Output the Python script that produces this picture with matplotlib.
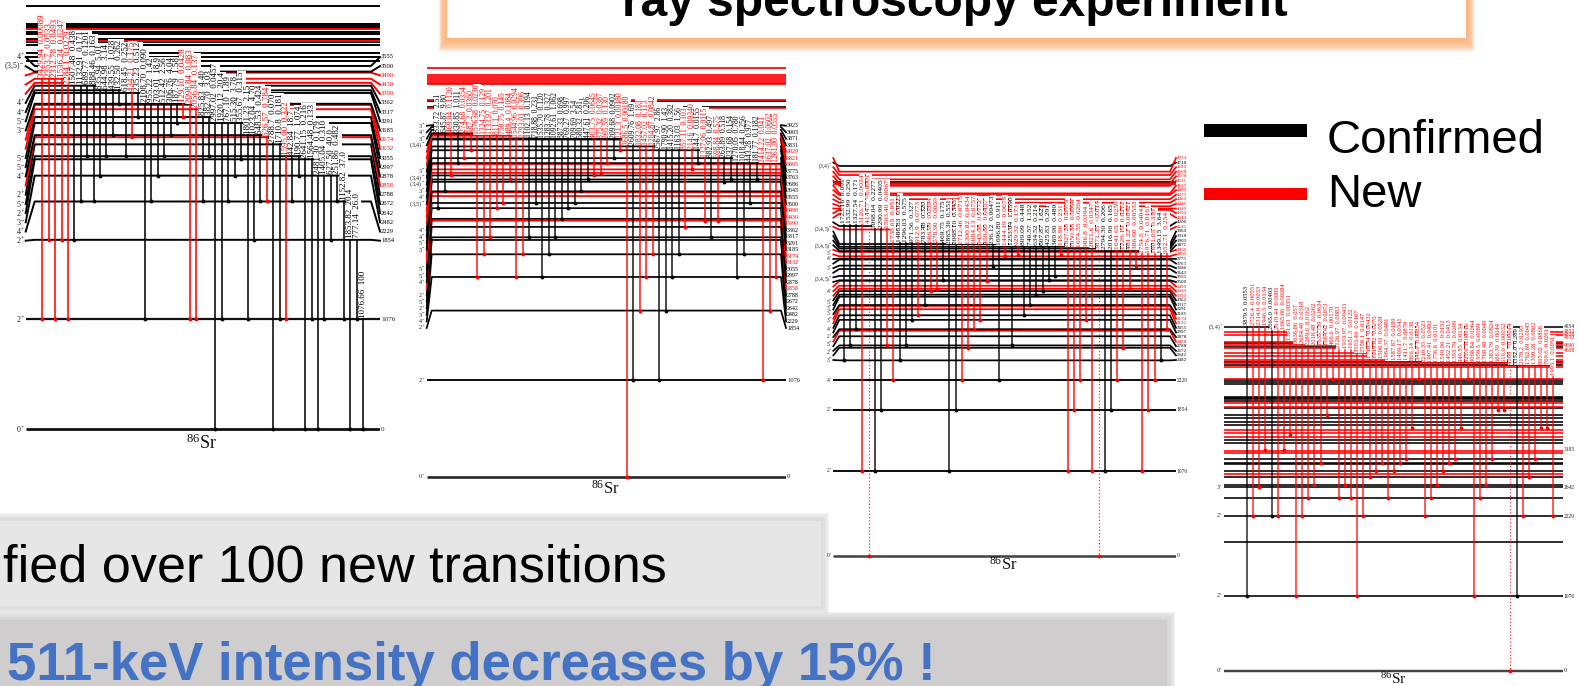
import matplotlib
matplotlib.use('Agg')
import matplotlib.pyplot as plt
from matplotlib.patches import Rectangle

plt.rcParams['font.family'] = 'Liberation Serif'
plt.rcParams['mathtext.default'] = 'regular'

W, H = 1578, 686

# spins of the known levels, keV
spins = {1854: '2+', 2229: '4+', 2482: '3-', 2642: '2+', 2672: '5-', 2788: '2+', 2878: '4+',
         2997: '5-', 3055: '5-', 3185: '3-', 3291: '5-', 3317: '4-', 3362: '4+', 3500: '(3,5)-',
         3555: '4+', 3643: '3-', 3686: '(3,4)-', 3763: '(3,4)-', 3775: '3-', 3831: '(3,4)-',
         3871: '3-', 3903: '4+', 3923: '3-'}

# ---- first scheme ----
p1_lab_e = [1854, 2229, 2482, 2642, 2672, 2788, 2858, 2878, 2997, 3055, 3132, 3174, 3185, 3291,
            3317, 3362, 3390, 3430, 3490, 3500, 3555]
p1_lab_new = [2858, 3132, 3174, 3390, 3430, 3490]
p1_black = [3605, 3647, 3680, 3761, 3790, 3816, 3872, 3892, 3931, 3947, 3964, 4137]
p1_red = [3803, 3915]
p1_gamma = ['3429.94', '2353.7', '2312.78', '1536.24', '2284.1', '1507.48', '1132.91', '689.77',
            '888.46', '835.94', '644.98', '439.55', '132.50', '618.45', '434.21', '235.23',
            '2108.70', '955.22', '703.01', '512.42', '306.76', '187.79', '129.10', '2098.84',
            '2056.84', '825.83', '382.70', '2997.02', '1920.12', '767.10', '515.30', '355.67',
            '1801.23', '1023.04', '648.53', '626.57', '2788.7', '1710.8', '1595.00', '442.84',
            '190.77', '2641.15', '1564.48', '2481.30', '1405.04', '627.50', '251.86', '1152.82',
            '1853.82', '777.14', '1076.66']
p1_inten = ['0.00089', '0.0533', '0.0493', '0.0247', '0.0279', '0.438', '0.171', '0.1201',
            '0.163', '5.01', '3.14', '1.028', '0.262', '0.252', '0.175', '0.512',
            '0.090', '1.42', '18.9', '2.56', '4.04', '1.58', '0.0428', '0.083',
            '0.137', '4.40', '3.03', '0.0457', '20.4', '1.89', '3.78', '0.315',
            '2.15', '4.70', '0.424', '0.784', '0.070', '0.181', '0.322', '18.7',
            '1.074', '0.216', '0.133', '0.179', '0.310', '40.0', '0.482', '37.0',
            '20.4', '26.0', '100']
p1_from = [3430, 3430, 3430, 3430, 3362, 3362, 3362, 3362, 3362, 3317, 3317, 3317, 3317, 3291, 3291,
           3291, 3185, 3185, 3185, 3185, 3185, 3185, 3185, 3174, 3132, 3055, 3055, 2997, 2997, 2997,
           2997, 2997, 2878, 2878, 2878, 2858, 2788, 2788, 2672, 2672, 2672, 2642, 2642, 2482, 2482,
           2482, 2482, 2229, 1854, 1854, 1076]
p1_to = [1076, 1854, 1076, 1854, 1076, 1854, 2229, 2672, 2229, 2482, 2672, 2878, 3185, 2672, 2858,
         3055, 1076, 2229, 2482, 2672, 2878, 2997, 3055, 1076, 1076, 2229, 2672, 0, 1076, 2229,
         2482, 2642, 1076, 1854, 2229, 2229, 0, 1076, 1076, 2229, 2482, 0, 1076, 0, 1076,
         1854, 2229, 1076, 0, 1076, 0]
p1_new = [0, 1, 2, 3, 4, 14, 22, 23, 24, 35, 38]

# ---- second scheme ----
p2_lab_e = p1_lab_e + [3643, 3686, 3763, 3775, 3805, 3821, 3829, 3831, 3871, 3903, 3923]
p2_lab_new = p1_lab_new + [3805, 3821, 3829]
p2_black = [4130, 4190]
p2_red = [4111, 4204, 4379, 4398, 4416, 4435, 4457, 4483, 4558]
p2_gamma = ['833.72', '645.87', '469.04', '330.85', '274.68', '187.2', '1576.68', '1324.75',
            '1133.97', '811.1', '750.75', '489.4', '1544.96', '1293.01', '1102.13', '718.88',
            '1535.70', '1283.78', '1092.61', '887.33', '769.27', '709.69', '580.32', '447.61',
            '403.75', '375.32', '265.59', '209.68', '121.3', '3686.5', '2609.76', '1832.08',
            '1457.02', '1204.87', '2567.97', '1790.90', '1415.20', '1163.03', '857.11', '214.6',
            '144.7', '1327.06', '882.93', '698.84', '263.89', '237.68', '1270.05', '1018.44',
            '443.28', '181.77', '2414.22', '1637.02', '1261.00']
p2_inten = ['2.51', '9.80', '0.1120', '1.011', '0.0354', '0.0360', '0.0230', '0.129',
            '0.201', '0.070', '0.145', '0.1084', '0.0294', '0.396', '0.194', '0.231',
            '0.120', '0.327', '1.062', '0.698', '0.997', '3.54', '5.81', '0.206',
            '0.0645', '0.0387', '0.130', '0.0902', '0.00180', '0.00180', '1.69', '0.183',
            '0.113', '0.0842', '2.86', '1.43', '0.382', '1.56', '0.103', '0.00340',
            '0.0155', '0.0115', '0.497', '0.575', '0.518', '0.154', '0.780', '0.256',
            '0.977', '0.1182', '0.041', '0.0602', '0.0555']
p2_from = [3831] * 6 + [3805] * 6 + [3775] * 4 + [3763] * 13 + [3686] * 5 + [3643] * 7 + [3555] * 5 \
    + [3500] * 4 + [3490] * 3
p2_to = [2997, 3185, 3362, 3500, 3555, 3643, 2229, 2482, 2672, 2997, 3055, 3317, 2229, 2482, 2672,
         3055, 2229, 2482, 2672, 2878, 2997, 3055, 3185, 3317, 3362, 3390, 3500, 3555, 3643, 0,
         1076, 1854, 2229, 2482, 1076, 1854, 2229, 2482, 2788, 3430, 3500, 2858, 2672, 2858, 3291,
         3317, 2229, 2482, 3055, 3317, 1076, 1854, 2229]
p2_new = [2, 4, 5, 6, 7, 8, 9, 10, 11, 12, 13, 24, 25, 26, 28, 29, 31, 32, 33, 38, 39, 41, 43, 50, 51, 52]

# ---- third scheme ----
# drawn energy and printed label are kept apart, the printed ones are squeezed together
p3_lab_e = [2482, 2642, 2672, 2788, 2858, 2878, 2997, 3055, 3132, 3174, 3185, 3291, 3317, 3362, 3390,
            3430, 3490, 3500, 3555, 3643, 3686, 3763, 3775, 3805, 3859, 3871, 3903, 3926, 3960, 4145,
            4189, 4344, 4394, 4410, 4440, 4485, 4530, 4583, 4604, 4700, 4730, 4782, 4837, 4952, 4880]
p3_lab_txt = ['2482', '2642', '2672', '2788', '2858', '2878', '2997', '3055', '3132', '3174', '3185',
              '3291', '3317', '3362', '3390', '3430', '3490', '3500', '3555', '3643', '3686', '3763',
              '3775', '3805', '3859', '3871', '3903', '3918', '3960', '4145', '4206', '4344', '4394',
              '4410', '4440', '4460', '4473', '4490', '4517', '4531', '4578', '4608', '4690', '4718',
              '4734']
p3_lab_new = [2858, 3132, 3174, 3390, 3430, 3490, 3805, 3859, 4145, 4344, 4394, 4410, 4440, 4485, 4530,
              4583, 4604, 4700, 4730, 4782, 4837, 4880]
p3_black = [4745]
p3_red = [4720]
p3_spin_e = [4952, 4145, 3933, 3841, 3778, 3651, 3511, 3355, 3228, 3143, 3080, 2995, 2868, 2783, 2690,
             2593, 2487, 2229, 1854, 1076, 0]
p3_spin_txt = ['(3,4)+', '(3,4,5)-', '(3,4,5)-', '3-', '4+', '3-', '(3,4,5)-', '4+', '5-', '3-', '3-',
               '3-', '4+', '2+', '5-', '2-', '3-', '4+', '2+', '2+', '0+']
p3_gamma = ['1723.16', '1532.99', '1327.54', '3126.71', '4144.7', '3068.04', '2290.99', '1503.40',
            '1738.65', '1486.83', '1296.03', '971.56', '912.9', '783.48', '606.99', '578.90',
            '469.75', '2865.36', '2088.10', '1712.46', '1300.82', '1084.13', '945.08', '450.80',
            '236.12', '1696.80', '1444.19', '1253.04', '929.32', '809.09', '740.57', '634.52',
            '607.87', '425.83', '369.90', '118.96', '2827.28', '2050.38', '1674.55', '986.8',
            '2821.6', '3871.35', '2794.30', '2016.90', '1641.65', '1229.10', '481.22', '386.90',
            '2754.5', '1976.71', '1601.05', '1349.15', '952.71']
p3_inten = ['0.091', '0.250', '0.171', '0.0034', '<0.0001', '0.2277', '0.0405', '0.0067',
            '0.051', '0.0223', '0.575', '0.327', '0.0773', '0.320', '0.0394', '0.0059',
            '0.175', '0.551', '0.343', '0.0715', '0.0434', '0.0757', '0.0772', '0.0457',
            '0.00473', '0.911', '0.0678', '1.8590', '0.173', '0.448', '1.152', '0.214',
            '1.62', '0.291', '0.480', '0.231', '0.0573', '0.0098', '0.0264', '0.0394',
            '0.0347', '<0.014', '0.206', '0.165', '0.0259', '0.0212', '0.00921', '0.00533',
            '0.0404', '0.0161', '0.339', '3.64', '0.254']
p3_from = [4206] * 5 + [4145] * 3 + [3968] * 9 + [3941] * 8 + [3926] * 11 + [3903] * 4 + [3897] \
    + [3871] * 7 + [3831] * 5
p3_to = [2482, 2672, 2878, 1076, 0, 1076, 1854, 2672, 2229, 2482, 2672, 2997, 3055, 3185, 3362, 3390,
         3500, 1076, 1854, 2229, 2642, 2878, 2997, 3490, 3686, 2229, 3805, 2672, 3821, 3055, 3185,
         3317, 3362, 3500, 3555, 3821, 1076, 1854, 2229, 2997, 1076, 0, 1076, 1854, 2229, 2642, 3390,
         3686, 1076, 1854, 2229, 2482, 2878]
p3_new = [3, 4, 7, 8, 12, 14, 15, 19, 20, 21, 22, 23, 26, 28, 35, 36, 37, 38, 39, 40, 41, 44, 45, 46,
          47, 48, 49, 50, 52]
p3_dotted = [4, 41]

# ---- fourth scheme ----
p4_black = [4954, 4717, 4669, 4453, 4405, 4189, 4165, 4131, 3948, 3929, 3910, 3891, 3780, 3686, 3636,
            3588, 3540, 3324, 3285, 3048, 2997, 2972, 2878, 2788, 2672, 2642, 2482, 2229, 1854, 1076]
p4_red = [4885, 4837, 4741, 4693, 4645, 4583, 4534, 4477, 4429, 4371, 4201, 3852, 3804, 3468, 3420,
          3372, 3169, 3130, 2829]
p4_lab_e = [4954, 4885, 4846, 4803, 4690, 4608, 3185, 2642, 2229, 1076]
p4_lab_txt = ['4954', '4853', '4838', '4810', '4690', '4608', '3185', '2642', '2229', '1076']
p4_lab_new = [4885, 4846, 4803, 4690, 4608]
p4_spin_e = [4954, 2642, 2229, 1076]
p4_spin_txt = ['(3,4)+', '3+', '2+', '2+']
p4_gamma = ['3879.5', '2726.4', '2314.9', '1946.3', '2665.0', '2619.44', '1665.06', '1361.63',
            '3636.86', '2684.48', '2289.6', '2018.48', '1635.739', '1084.42', '466.6', '2126.97',
            '1933.97', '1651.3', '3503.49', '2558.1', '1710.34', '1619.82', '1500.93', '1984.37',
            '1587.87', '1469.17', '1411.7', '866.14', '348.9', '2210.35', '1907.41', '1776.6',
            '1510.86', '1452.21', '1393.79', '949.55', '323.9', '3068.84', '1959.5', '1768.48',
            '1383.79', '666.39', '516.0', '4169', '3352.0', '2179.2', '1762.69', '1339.28',
            '805.02', '769.6', '1993.1']
p4_inten = ['0.0553', '0.00551', '0.0033', '0.0134', '0.00403', '0.0085', '0.00284', '0.00351',
            '0.057', '0.0318', '0.0162', '0.0262', '0.0634', '0.0073', '0.00170', '0.0083',
            '0.00431', '0.0122', '0.0167', '0.0147', '0.00432', '0.0270', '0.0528', '0.0481',
            '0.0189', '0.0341', '0.0879', '0.0138', '0.00834', '0.0523', '0.0492', '0.0101',
            '0.0152', '0.0413', '0.0209', '0.0134', '0.00016', '0.0064', '0.0089', '0.0049',
            '0.0824', '0.0044', '0.00032', '<0.00014', '0.289', '0.0295', '0.0045', '0.0802',
            '0.0866', '0.0261', '0.0051']
p4_from = [4954] * 4 + [4894] * 3 + [4741] + [4693] * 2 + [4669] * 5 + [4621] * 3 + [4563] * 2 \
    + [4476] * 3 + [4452] * 6 + [4428] * 14 + [4389] * 7 + [4237]
p4_to = [1076, 2229, 2642, 3185, 2229, 2229, 3185, 3390, 1076, 2229, 2482, 2672, 2997, 3686, 4206, 2482,
         2672, 2482, 1076, 2229, 2788, 2878, 2997, 2482, 2878, 2997, 3055, 3500, 4206, 2229, 2482, 2672,
         2878, 2997, 3055, 3500, 4206, 1076, 2482, 2672, 3055, 3763, 3763, 0, 1076, 2229, 2788, 3055,
         3500, 3500, 2229]
p4_new = [i for i in range(51) if i not in (0, 4, 44)]
p4_dotted = [43]

# layout, everything in reference pixels
panels = [
    dict(left=25.7, right=380, y0=429.3, k=0.1022, col0=42.3, step=6.413, size=6.5, lab=4.7, spin=5.8,
         kink=9, lab_lo=240.7, lab_hi=57, sr=201, sr_y=449, sr_size=13, lw=1.4, gs='#111111'),
    dict(left=426.7, right=786, y0=476.7, k=0.0896, col0=438, step=6.5, size=5.5, lab=4.3, spin=4.5,
         kink=5, lab_lo=328, lab_hi=125.7, sr=605, sr_y=494, sr_size=12, lw=1.25, gs='#222222'),
    dict(left=833.3, right=1176, y0=555.7, k=0.0787, col0=843.7, step=6.217, size=5.4, lab=3.6, spin=4.0,
         kink=6, lab_lo=360, lab_hi=158, sr=1003, sr_y=570, sr_size=12, lw=1.25, gs='#444444'),
    dict(left=1224, right=1562.7, y0=670.7, k=0.0694, col0=1247, step=6.127, size=4.7, lab=4.0, spin=4.2,
         kink=0, lab_lo=None, lab_hi=None, sr=1393, sr_y=684, sr_size=11, lw=1.15, gs='#444444'),
]


def spin_text(s):
    return '%s$^{%s}$' % (s[:-1], s[-1])


def make_axes(fig, p):
    ax = fig.add_axes([p['left'] / W, 0, (p['right'] - p['left']) / W, 1])
    ax.set_xlim((p['left'] - p['col0']) / p['step'], (p['right'] - p['col0']) / p['step'])
    ax.set_ylim((p['y0'] - H) / p['k'], p['y0'] / p['k'])
    ax.axis('off')
    return ax


def draw_levels(ax, p, energies, new, texts=None, with_spin=True):
    # labelled levels, the label column is spread out and tied back to the level by a kink
    x0, x1 = ax.get_xlim()
    dx = p['kink'] / p['step']
    n = len(energies)
    for i, e in enumerate(energies):
        col = 'red' if e in new else 'black'
        px = p['lab_lo'] + (p['lab_hi'] - p['lab_lo']) * i / (n - 1)
        ly = (p['y0'] - px) / p['k']
        ax.plot([x0, x0 + dx, x1 - dx, x1], [ly, e, e, ly], color=col, lw=p['lw'], zorder=1,
                solid_joinstyle='round', clip_on=False)
        txt = texts[i] if texts else str(e)
        ax.text(x1 + 0.15, ly, txt, color=col, fontsize=p['lab'], va='center', ha='left', clip_on=False)
        if with_spin and e in spins:
            ax.text(x0 - 0.15, ly, spin_text(spins[e]), color='#222222', fontsize=p['spin'], va='center',
                    ha='right', clip_on=False)


def draw_plain(ax, p, energies, col):
    x0, x1 = ax.get_xlim()
    for e in energies:
        ax.plot([x0, x1], [e, e], color=col, lw=p['lw'], zorder=1, solid_capstyle='butt')


def draw_transitions(ax, p, gamma, inten, start, stop, new, dotted=()):
    for i in range(len(gamma)):
        col = 'red' if i in new else 'black'
        ls = ':' if i in dotted else '-'
        lw = 0.9 if i in dotted else p['lw']
        ax.plot([i, i], [start[i], stop[i]], color=col, lw=lw, ls=ls, zorder=2, alpha=0.8)
        ax.plot([i], [stop[i]], marker='o', ms=2.8, color=col, mew=0, zorder=2.5)
        ax.annotate(gamma[i] + '  ' + inten[i], (i, start[i]), xytext=(0, 1.2), textcoords='offset points',
                    rotation=90, ha='center', va='bottom', fontsize=p['size'], color=col, zorder=3,
                    bbox=dict(facecolor='white', edgecolor='none', pad=0.35))


def draw_ends(ax, p, tops):
    # 1076 and the ground state sit straight under the scheme
    x0, x1 = ax.get_xlim()
    for e, s in tops:
        col = p['gs'] if e == 0 else '#111111'
        ax.plot([x0, x1], [e, e], color=col, lw=p['lw'] + (0.6 if e == 0 else 0.2), zorder=1,
                solid_capstyle='butt')
        ax.text(x1 + 0.15, e, str(e), fontsize=p['lab'] + 0.4, va='center', ha='left', color='#222222',
                clip_on=False)
        if s:
            ax.text(x0 - 0.15, e, spin_text(s), fontsize=p['spin'], va='center', ha='right', color='#222222',
                    clip_on=False)


def draw_side(ax, p, e_list, txt_list, new=()):
    x0, x1 = ax.get_xlim()
    for e, t in zip(e_list, txt_list):
        ax.text(x1 + 0.15, e, t, fontsize=p['lab'], va='center', ha='left', clip_on=False,
                color='red' if e in new else '#222222')


def draw_spins(ax, p, e_list, txt_list):
    x0 = ax.get_xlim()[0]
    for e, s in zip(e_list, txt_list):
        ax.text(x0 - 0.15, e, spin_text(s), fontsize=p['spin'], va='center', ha='right', color='#222222',
                clip_on=False)


def draw_name(ax, p):
    x = (p['sr'] - p['col0']) / p['step']
    y = (p['y0'] - p['sr_y']) / p['k']
    ax.text(x, y, '$^{86}$Sr', fontsize=p['sr_size'], ha='center', va='baseline', color='#111111')


def shadow_box(bg, x0, y0, x1, y1, face, shade, spread):
    for i in range(spread, 0, -1):
        bg.add_patch(Rectangle((x0 - i, y0 - i), x1 - x0 + 2 * i, y1 - y0 + 2 * i, facecolor=shade,
                               edgecolor='none', alpha=0.3, zorder=0.5))
    bg.add_patch(Rectangle((x0, y0), x1 - x0, y1 - y0, facecolor=face, edgecolor='none', zorder=0.6))


fig = plt.figure(figsize=(W / 100, H / 100), dpi=100)
bg = fig.add_axes([0, 0, 1, 1])
bg.set_xlim(0, W)
bg.set_ylim(H, 0)
bg.axis('off')

# slide furniture
for i in range(8, 0, -1):
    bg.add_patch(Rectangle((447 - i, -20), 1019 + 2 * i, 58 + i * 1.6, facecolor='#fcb57d',
                           edgecolor='none', alpha=0.3, zorder=0.5))
bg.add_patch(Rectangle((447, -20), 1019, 58, facecolor='white', edgecolor='none', zorder=0.6))
bg.text(955, 16, 'ray spectroscopy experiment', family='Liberation Sans', weight='bold', fontsize=34.5,
        ha='center', va='baseline', color='black', zorder=1)

shadow_box(bg, -20, 521, 821, 606, '#e6e6e6', '#dddddd', 8)
bg.text(667, 582, 'fied over 100 new transitions', family='Liberation Sans', fontsize=37.5, ha='right',
        va='baseline', color='black', zorder=1)
shadow_box(bg, -20, 620, 1167, 720, '#cfcdce', '#d6d6d6', 8)
bg.text(7, 680, '511-keV intensity decreases by 15% !', family='Liberation Sans', weight='bold',
        fontsize=38, ha='left', va='baseline', color='#4472c4', zorder=1)

# legend
bg.add_patch(Rectangle((1204, 124), 103, 13, facecolor='black', edgecolor='none'))
bg.add_patch(Rectangle((1204, 188), 103, 12, facecolor='red', edgecolor='none'))
bg.text(1327, 153, 'Confirmed', family='Liberation Sans', fontsize=34, va='baseline', ha='left')
bg.text(1327, 207, 'New', family='Liberation Sans', fontsize=34, va='baseline', ha='left')

# schemes
ax = make_axes(fig, panels[0])
draw_plain(ax, panels[0], p1_black, 'black')
draw_plain(ax, panels[0], p1_red, 'red')
draw_levels(ax, panels[0], p1_lab_e, p1_lab_new)
draw_ends(ax, panels[0], [(1076, '2+'), (0, '0+')])
draw_transitions(ax, panels[0], p1_gamma, p1_inten, p1_from, p1_to, p1_new)
draw_name(ax, panels[0])

ax = make_axes(fig, panels[1])
draw_plain(ax, panels[1], p2_black, 'black')
draw_plain(ax, panels[1], p2_red, 'red')
draw_levels(ax, panels[1], p2_lab_e, p2_lab_new)
draw_ends(ax, panels[1], [(1076, '2+'), (0, '0+')])
draw_transitions(ax, panels[1], p2_gamma, p2_inten, p2_from, p2_to, p2_new)
draw_name(ax, panels[1])

ax = make_axes(fig, panels[2])
draw_plain(ax, panels[2], p3_black, 'black')
draw_plain(ax, panels[2], p3_red, 'red')
draw_levels(ax, panels[2], p3_lab_e, p3_lab_new, texts=p3_lab_txt, with_spin=False)
draw_ends(ax, panels[2], [(1854, ''), (2229, ''), (1076, ''), (0, '')])
draw_spins(ax, panels[2], p3_spin_e, p3_spin_txt)
draw_transitions(ax, panels[2], p3_gamma, p3_inten, p3_from, p3_to, p3_new, p3_dotted)
draw_name(ax, panels[2])

ax = make_axes(fig, panels[3])
draw_plain(ax, panels[3], p4_black, 'black')
draw_plain(ax, panels[3], p4_red, 'red')
draw_ends(ax, panels[3], [(0, '0+')])
draw_transitions(ax, panels[3], p4_gamma, p4_inten, p4_from, p4_to, p4_new, p4_dotted)
draw_side(ax, panels[3], p4_lab_e, p4_lab_txt, p4_lab_new)
draw_spins(ax, panels[3], p4_spin_e, p4_spin_txt)
draw_name(ax, panels[3])

fig.savefig('out.png', dpi=100)
plt.close(fig)
